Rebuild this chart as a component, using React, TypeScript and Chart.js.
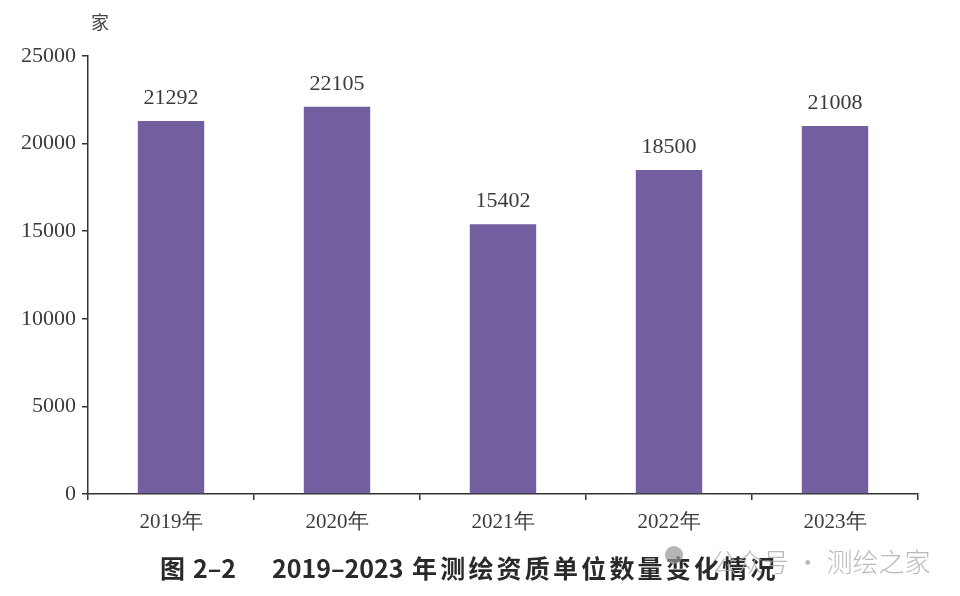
import React, { useEffect, useRef } from "react";
import { Chart, registerables } from "chart.js";

Chart.register(...registerables);

const categories = ["2019年", "2020年", "2021年", "2022年", "2023年"];
const values = [21292, 22105, 15402, 18500, 21008];
const yTicks = [0, 5000, 10000, 15000, 20000, 25000];

const textColor = "#3a3a3a";
const axisColor = "#333333";
const barColor = "#735E9F";

const valueLabels = {
  id: "valueLabels",
  afterDatasetsDraw(chart: any) {
    const ctx = chart.ctx;
    const meta = chart.getDatasetMeta(0);
    ctx.save();
    ctx.fillStyle = textColor;
    ctx.font = '22px "Liberation Serif", serif';
    ctx.textAlign = "center";
    ctx.textBaseline = "middle";
    meta.data.forEach((bar: any, i: number) => {
      ctx.fillText(String(values[i]), bar.x, bar.y - 23);
    });
    ctx.restore();
  },
};

const capFont = '"Noto Sans CJK SC", "Noto Sans", sans-serif';

export default function App() {
  const ref = useRef<HTMLCanvasElement>(null);
  useEffect(() => {
    const chart = new Chart(ref.current as HTMLCanvasElement, {
      type: "bar",
      data: {
        labels: categories,
        datasets: [
          {
            data: values,
            backgroundColor: barColor,
            borderWidth: 0,
            barPercentage: 0.4,
            categoryPercentage: 1,
          },
        ],
      },
      options: {
        animation: false,
        responsive: false,
        maintainAspectRatio: false,
        layout: { padding: { left: 0, right: 42, top: 56, bottom: 0 } },
        plugins: {
          legend: { display: false },
          tooltip: { enabled: false },
          title: { display: false },
        },
        scales: {
          x: {
            offset: true,
            border: { display: true, color: axisColor, width: 1.5 },
            grid: {
              display: true,
              offset: true,
              drawOnChartArea: false,
              drawTicks: true,
              tickLength: 6,
              color: axisColor,
              lineWidth: 1.5,
            },
            ticks: {
              color: textColor,
              font: { family: '"Liberation Serif", serif', size: 21 },
              padding: 10,
              maxRotation: 0,
            },
            afterFit: (s: any) => {
              s.height = 102;
            },
          },
          y: {
            min: 0,
            max: 25000,
            border: { display: true, color: axisColor, width: 1.5 },
            grid: {
              display: true,
              drawOnChartArea: false,
              drawTicks: true,
              tickLength: 6,
              color: axisColor,
              lineWidth: 1.5,
            },
            afterBuildTicks: (s: any) => {
              s.ticks = yTicks.map((v) => ({ value: v }));
            },
            ticks: {
              color: textColor,
              font: { family: '"Liberation Serif", serif', size: 22 },
              padding: 6,
              callback: (v: any) => String(v),
            },
            afterFit: (s: any) => {
              s.width = 88;
            },
          },
        },
      },
      plugins: [valueLabels],
    });
    return () => chart.destroy();
  }, []);

  const capStyle: React.CSSProperties = {
    position: "absolute",
    top: 550,
    fontFamily: capFont,
    fontSize: 25,
    fontWeight: 700,
    color: "#2a2a2a",
    whiteSpace: "pre",
    lineHeight: "34px",
  };

  return (
    <div
      style={{
        position: "fixed",
        left: 0,
        top: 0,
        width: 960,
        height: 596,
        background: "#ffffff",
        overflow: "hidden",
      }}
    >
      <canvas ref={ref} width={960} height={596} style={{ display: "block" }} />
      <div
        style={{
          position: "absolute",
          left: 91,
          top: 8,
          fontFamily: '"Noto Sans CJK SC", serif',
          fontSize: 18,
          color: "#444",
        }}
      >
        家
      </div>
      <div style={{ ...capStyle, left: 160 }}>图</div>
      <div style={{ ...capStyle, left: 193 }}>2–2</div>
      <div style={{ ...capStyle, left: 272 }}>2019–2023</div>
      <div style={{ ...capStyle, left: 412, letterSpacing: "3.2px" }}>
        年测绘资质单位数量变化情况
      </div>
      <div
        style={{
          position: "absolute",
          left: 665,
          top: 546,
          width: 18,
          height: 18,
          borderRadius: "50%",
          background: "rgba(150,150,150,0.7)",
        }}
      />
      <div
        style={{
          position: "absolute",
          left: 711,
          top: 544,
          fontFamily: capFont,
          fontSize: 26,
          fontWeight: 300,
          color: "rgba(170,170,170,0.8)",
          whiteSpace: "pre",
          lineHeight: "34px",
        }}
      >
        {"公众号 · 测绘之家"}
      </div>
    </div>
  );
}
